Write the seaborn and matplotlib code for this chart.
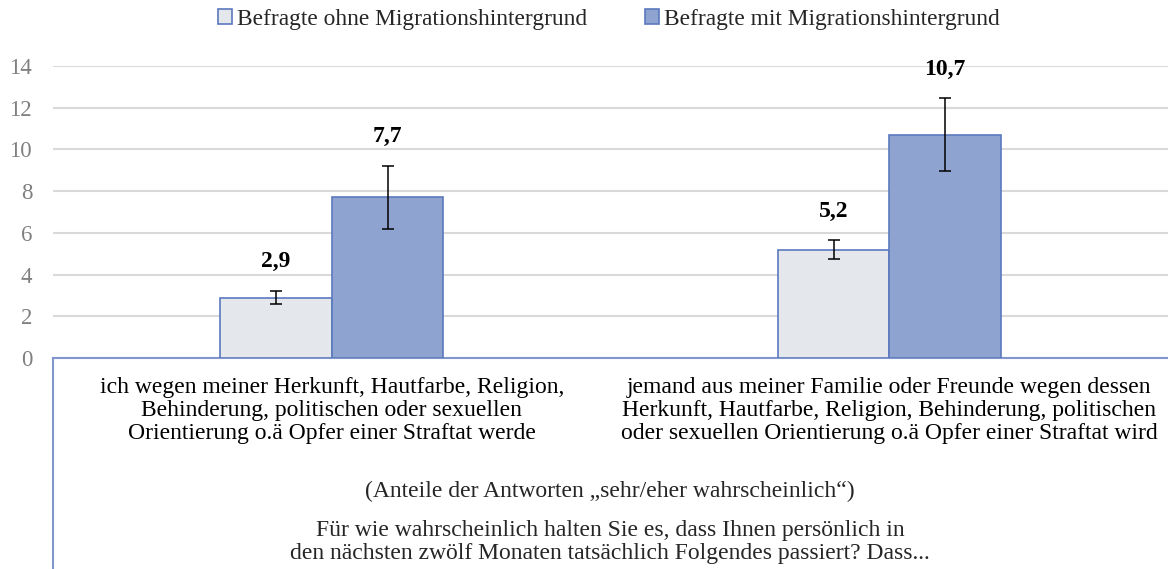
import pandas as pd
import numpy as np
import matplotlib
matplotlib.use("Agg")
import matplotlib.pyplot as plt
from matplotlib.lines import Line2D
import seaborn as sns

# data
categories = [
    "ich wegen meiner Herkunft, Hautfarbe, Religion,\nBehinderung, politischen oder sexuellen\nOrientierung o.ä Opfer einer Straftat werde",
    "jemand aus meiner Familie oder Freunde wegen dessen\nHerkunft, Hautfarbe, Religion, Behinderung, politischen\noder sexuellen Orientierung o.ä Opfer einer Straftat wird",
]
groups = ["Befragte ohne Migrationshintergrund", "Befragte mit Migrationshintergrund"]
values_ohne = [2.9, 5.2]
values_mit = [7.7, 10.7]
err_ohne = [0.32, 0.45]
err_mit = [1.5, 1.75]
labels_ohne = ["2,9", "5,2"]
labels_mit = ["7,7", "10,7"]
yticks = [0, 2, 4, 6, 8, 10, 12, 14]
note = "(Anteile der Antworten \u201esehr/eher wahrscheinlich\u201c)"
question = "Für wie wahrscheinlich halten Sie es, dass Ihnen persönlich in\nden nächsten zwölf Monaten tatsächlich Folgendes passiert? Dass..."

df = pd.DataFrame({
    "cat": categories * 2,
    "group": [groups[0]] * 2 + [groups[1]] * 2,
    "val": values_ohne + values_mit,
})

sns.set_theme(style="white")
plt.rcParams["font.family"] = ["Liberation Serif", "DejaVu Serif"]

fill_colors = ["#E4E7EC", "#8FA3D1"]
edge_blue = "#5B79BE"
axis_blue = "#8197CC"

fig = plt.figure(figsize=(11.68, 5.69), dpi=100)
ax = fig.add_axes([53 / 1168, 1 - 358 / 569, 1 - 53 / 1168, (358 - 66) / 569])

sns.barplot(data=df, x="cat", y="val", hue="group", palette=fill_colors,
            saturation=1, width=0.4, gap=0, errorbar=None,
            edgecolor=edge_blue, linewidth=1.2, ax=ax, zorder=3)

errs = [err_ohne, err_mit]
labs = [labels_ohne, labels_mit]
bar_containers = list(ax.containers)
for k, cont in enumerate(bar_containers):
    for i, bar in enumerate(cont.patches):
        xc = bar.get_x() + bar.get_width() / 2
        h = bar.get_height()
        ax.errorbar(xc, h, yerr=errs[k][i], fmt="none", ecolor="black",
                    elinewidth=1.1, capsize=4.3, capthick=1.1, zorder=4)
        ax.annotate(labs[k][i], xy=(xc, h + errs[k][i]), xytext=(0, 21),
                    textcoords="offset points", ha="center", va="center",
                    fontsize=17, fontweight="bold", color="black", annotation_clip=False)

ax.set_xlim(-0.5, 1.5)
ax.set_ylim(0, 14)
ax.set_yticks(yticks)
ax.set_yticklabels([str(t) for t in yticks], color="#808080", fontsize=16.5)
ax.yaxis.grid(True, color="#D9D9D9", linewidth=1.5, zorder=0)
ax.set_axisbelow(True)
ax.tick_params(axis="y", length=0, pad=15)
ax.tick_params(axis="x", length=0, pad=14, labelsize=17, labelcolor="black")
for lab in ax.get_xticklabels():
    lab.set_linespacing(1.12)
ax.set_xlabel("")
ax.set_ylabel("")
for s in ["top", "right", "left"]:
    ax.spines[s].set_visible(False)
ax.spines["bottom"].set_color(axis_blue)
ax.spines["bottom"].set_linewidth(1.5)

# left border of the category area
fig.add_artist(Line2D([53 / 1168, 53 / 1168], [0, 1 - 358 / 569],
                      color=axis_blue, linewidth=1.5))

fig.text(610 / 1168, 1 - 491 / 569, note, ha="center", va="center", fontsize=17)
fig.text(610 / 1168, 1 - 542 / 569, question, ha="center", va="center",
         fontsize=17, linespacing=1.12)

handles, _ = ax.get_legend_handles_labels()
ax.get_legend().remove()
fig.legend(handles, groups, loc="center", bbox_to_anchor=(609 / 1168, 1 - 19 / 569),
           ncol=2, frameon=False, fontsize=16.8, handlelength=0.6, handleheight=0.6,
           handletextpad=0.2, columnspacing=2.5, borderaxespad=0)

fig.savefig("out.png", dpi=100)
